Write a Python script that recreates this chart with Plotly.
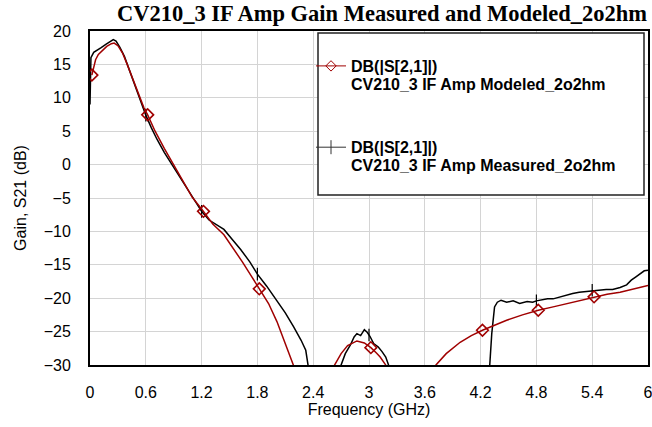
import plotly.graph_objects as go

# Measured S21 (black trace)
meas_freq = [0.0, 0.01, 0.04, 0.08, 0.12, 0.17, 0.22, 0.25, 0.28, 0.32, 0.37, 0.42, 0.47, 0.52, 0.56,
             0.60, 0.66, 0.72, 0.80, 0.88, 0.96, 1.04, 1.12, 1.20, 1.28, 1.36, 1.44, 1.53, 1.62, 1.72,
             1.80, 1.90, 2.01, 2.10, 2.19, 2.27, 2.32, 2.35, 2.40, 2.50, 2.65, 2.70, 2.745, 2.80, 2.84,
             2.87, 2.91, 2.95, 2.98, 3.01, 3.05, 3.10, 3.14, 3.18, 3.21, 3.25, 3.40, 3.70, 4.00, 4.20,
             4.28, 4.30, 4.32, 4.35, 4.38, 4.42, 4.48, 4.55, 4.62, 4.70, 4.76, 4.80, 4.85, 4.92, 4.98,
             5.05, 5.12, 5.19, 5.26, 5.33, 5.41, 5.48, 5.55, 5.62, 5.70, 5.77, 5.82, 5.87, 5.92, 5.96, 6.00]
meas_gain = [9.0, 16.0, 16.8, 17.1, 17.5, 18.0, 18.5, 18.7, 18.5, 17.6, 16.2, 14.3, 12.5, 10.7, 9.1,
             7.4, 5.5, 3.8, 1.8, 0.0, -1.8, -3.6, -5.3, -7.0, -8.3, -9.0, -9.7, -11.2, -12.7, -14.6,
             -16.4, -18.2, -20.3, -22.2, -24.3, -26.3, -27.8, -30.5, -38.0, -40.0, -36.0, -30.0, -28.3, -27.0, -25.8,
             -25.3, -25.6, -24.7, -25.1, -25.7, -26.8, -27.3, -28.0, -28.8, -30.0, -35.0, -40.0, -42.0, -40.0, -38.0,
             -34.0, -30.0, -25.3, -21.3, -20.6, -20.3, -20.6, -20.4, -20.8, -20.5, -20.6, -20.4, -20.3, -20.1, -20.1,
             -19.8, -19.6, -19.3, -19.1, -19.0, -18.8, -18.8, -18.7, -18.7, -18.4, -18.0, -17.3, -16.8, -16.3, -15.9, -15.8]
meas_mk_freq = [0.6, 1.2, 1.8, 3.0, 4.8, 5.4]
meas_mk_gain = [7.4, -7.0, -16.4, -25.5, -20.4, -18.8]

# Modeled S21 (red trace)
model_freq = [0.02, 0.04, 0.06, 0.09, 0.13, 0.18, 0.23, 0.26, 0.30, 0.35, 0.40, 0.46, 0.52, 0.58, 0.62,
              0.70, 0.80, 0.90, 1.00, 1.10, 1.22, 1.32, 1.44, 1.54, 1.64, 1.74, 1.82, 1.92, 2.01, 2.07,
              2.12, 2.16, 2.20, 2.26, 2.32, 2.42, 2.52, 2.58, 2.63, 2.70, 2.77, 2.87, 2.95, 3.02, 3.08,
              3.12, 3.18, 3.25, 3.35, 3.45, 3.55, 3.65, 3.72, 3.83, 3.98, 4.10, 4.22, 4.35, 4.48, 4.65,
              4.82, 4.98, 5.13, 5.28, 5.42, 5.56, 5.70, 5.85, 6.00]
model_gain = [13.4, 14.8, 15.7, 16.5, 17.1, 17.7, 18.1, 18.2, 17.8, 16.7, 15.0, 12.9, 10.7, 8.5, 7.45,
              5.0, 2.4, -0.1, -2.6, -4.9, -7.0, -8.9, -10.5, -12.5, -14.6, -16.8, -18.6, -20.8, -23.5, -25.7,
              -27.8, -29.0, -30.5, -34.0, -40.0, -48.0, -40.0, -34.0, -30.0, -28.3, -27.1, -26.4, -26.7, -27.4, -28.2,
              -28.8, -30.0, -32.5, -38.0, -45.0, -38.0, -32.5, -30.0, -28.3, -26.6, -25.6, -24.8, -24.0, -23.3, -22.5,
              -21.8, -21.3, -20.8, -20.3, -19.8, -19.4, -19.1, -18.6, -18.1]
model_mk_freq = [0.02, 0.62, 1.22, 1.82, 3.02, 4.22, 4.82, 5.42]
model_mk_gain = [13.4, 7.45, -7.0, -18.6, -27.4, -24.8, -21.8, -19.8]

x_ticks = [0, 0.6, 1.2, 1.8, 2.4, 3, 3.6, 4.2, 4.8, 5.4, 6]
x_ticktext = ['0', '0.6', '1.2', '1.8', '2.4', '3', '3.6', '4.2', '4.8', '5.4', '6']

legend_top = 'DB(|S[2,1]|)'
model_name = 'CV210_3 IF Amp Modeled_2o2hm'
meas_name = 'CV210_3 IF Amp Measured_2o2hm'

RED = '#a00000'
BLACK = '#000000'
FONT = 'Liberation Sans, Arial, sans-serif'

fig = go.Figure()

# Curvas
fig.add_trace(go.Scatter(
    x=meas_freq, y=meas_gain, mode='lines',
    line=dict(color=BLACK, width=1.5), showlegend=False, hoverinfo='skip'
))
fig.add_trace(go.Scatter(
    x=meas_mk_freq, y=meas_mk_gain, mode='markers',
    marker=dict(symbol='line-ns', size=9, line=dict(color=BLACK, width=1.2)),
    showlegend=False, hoverinfo='skip'
))
fig.add_trace(go.Scatter(
    x=model_freq, y=model_gain, mode='lines',
    line=dict(color=RED, width=1.5), showlegend=False, hoverinfo='skip'
))
fig.add_trace(go.Scatter(
    x=model_mk_freq, y=model_mk_gain, mode='markers',
    marker=dict(symbol='diamond-open', size=9, color=RED, line=dict(color=RED, width=1.6)),
    showlegend=False, hoverinfo='skip'
))

# Entradas da legenda
fig.add_trace(go.Scatter(
    x=[None], y=[None], mode='lines+markers', name=legend_top,
    line=dict(color=RED, width=1), legendgroup='model',
    marker=dict(symbol='diamond-open', size=8, color=RED, line=dict(color=RED, width=1))
))
fig.add_trace(go.Scatter(
    x=[None], y=[None], mode='lines+markers', name=legend_top,
    line=dict(color='#333333', width=1), legendgroup='meas',
    marker=dict(symbol='line-ns', size=10, line=dict(color='#333333', width=1))
))

px_x = lambda p: (p - 90) / 558
px_y = lambda p: (365 - p) / 334

fig.add_shape(type='rect', xref='paper', yref='paper',
              x0=px_x(318), x1=px_x(644), y0=px_y(195), y1=px_y(33),
              fillcolor='white', line=dict(color='#222222', width=1.5), layer='above')

for name, ypx in [(model_name, 84), (meas_name, 165)]:
    fig.add_annotation(xref='paper', yref='paper', x=px_x(349), y=px_y(ypx),
                       xanchor='left', yanchor='middle', showarrow=False, text=f'<b>{name}</b>',
                       font=dict(family=FONT, size=16, color='black'))

fig.update_layout(
    title=dict(text='<b>CV210_3 IF Amp Gain Measured and Modeled_2o2hm</b>',
               font=dict(family='Liberation Serif, Times New Roman, serif', size=22.5, color='black'),
               x=px_x(382), xref='paper', xanchor='center', y=1 - 13 / 427, yref='container', yanchor='middle'),
    paper_bgcolor='white',
    plot_bgcolor='white',
    width=652, height=427,
    margin=dict(l=90, r=4, t=31, b=62, autoexpand=False),
    xaxis=dict(
        range=[0, 6], tickvals=x_ticks, ticktext=x_ticktext,
        showgrid=True, gridcolor='#d4d4d4', gridwidth=1,
        showline=True, linecolor='black', linewidth=2, mirror=True,
        zeroline=False, ticks='', ticklabelstandoff=12, automargin=False,
        ticklabeloverflow='allow',
        tickfont=dict(family=FONT, size=16, color='black'),
        title=dict(text='Frequency (GHz)', font=dict(family=FONT, size=16, color='black'), standoff=4)
    ),
    yaxis=dict(
        range=[-30, 20], dtick=5,
        showgrid=True, gridcolor='#d4d4d4', gridwidth=1,
        showline=True, linecolor='black', linewidth=2, mirror=True,
        zeroline=False, ticks='', ticklabelstandoff=14, automargin=False,
        tickfont=dict(family=FONT, size=16, color='black'),
        title=dict(text='Gain, S21 (dB)', font=dict(family=FONT, size=16, color='black'), standoff=13)
    ),
    legend=dict(
        x=px_x(311), xanchor='left', y=px_y(49), yanchor='top',
        bgcolor='rgba(0,0,0,0)', borderwidth=0,
        font=dict(family=FONT, size=16, color='black', weight='bold'),
        traceorder='grouped', tracegroupgap=57.5, itemwidth=30
    ),
)

# página sem margem no body, para o gráfico ocupar a janela toda
fig.write_html('out.html', config={'displayModeBar': False},
               post_script="document.body.style.margin='0';")
